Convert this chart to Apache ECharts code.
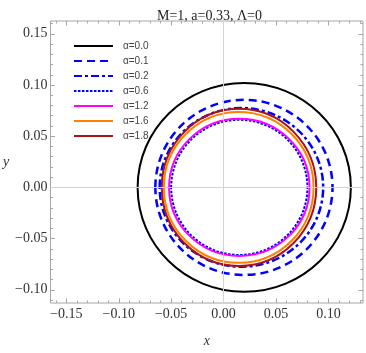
<!DOCTYPE html>
<html>
<head>
<meta charset="utf-8">
<script src="https://cdn.jsdelivr.net/npm/echarts@6/dist/echarts.min.js"></script>
<style>
html, body { margin: 0; padding: 0; background: #fff; }
#main { width: 366px; height: 353px; }
</style>
</head>
<body>
<div id="main"></div>
<script>
// curves
var names = ['α=0.0', 'α=0.1', 'α=0.2', 'α=0.6', 'α=1.2', 'α=1.6', 'α=1.8'];
var colors = ['#000000', '#0000ff', '#0000ff', '#0000ff', '#ff00ff', '#ff8000', '#aa1414'];
// shadow outlines: centre x, centre y, half width, half height
var centerX = [0.0197, 0.0194, 0.0170, 0.0150, 0.0150, 0.0144, 0.0147];
var centerY = [0, 0, 0, 0, 0, 0, 0];
var halfW = [0.1017, 0.0845, 0.0780, 0.0650, 0.0670, 0.0714, 0.0737];
var halfH = [0.1020, 0.0855, 0.0775, 0.0660, 0.0670, 0.0737, 0.0767];
var dashes = [null, [8, 5], [8, 3, 3, 3], [2.5, 1.5], null, null, null];
var widths = [2, 2.5, 2.5, 2, 2, 2, 2];

// ticks
var majorX = [-0.15, -0.10, -0.05, 0, 0.05, 0.10];
var majorY = [-0.10, -0.05, 0, 0.05, 0.10, 0.15];
var minorX = [-0.16, -0.15, -0.14, -0.13, -0.12, -0.11, -0.10, -0.09, -0.08, -0.07, -0.06, -0.05, -0.04, -0.03, -0.02, -0.01,
    0, 0.01, 0.02, 0.03, 0.04, 0.05, 0.06, 0.07, 0.08, 0.09, 0.10, 0.11, 0.12, 0.13];
var minorY = [-0.11, -0.10, -0.09, -0.08, -0.07, -0.06, -0.05, -0.04, -0.03, -0.02, -0.01,
    0, 0.01, 0.02, 0.03, 0.04, 0.05, 0.06, 0.07, 0.08, 0.09, 0.10, 0.11, 0.12, 0.13, 0.14, 0.15, 0.16];

var xMin = -0.1651, xMax = 0.1330;
var yMin = -0.1129, yMax = 0.1625;

var serif = 'Liberation Serif';
var frameColor = '#a6a6a6';

function fmt(v) {
    return v.toFixed(2).replace('-', '\u2212');
}

function makeAxis(pos, ticks, len, withLabel, isX) {
    var ax = {
        type: 'value',
        position: pos,
        min: isX ? xMin : yMin,
        max: isX ? xMax : yMax,
        axisLine: { show: false, onZero: false },
        splitLine: { show: false },
        axisTick: {
            show: true, inside: true, length: len, customValues: ticks,
            lineStyle: { color: frameColor, width: 1 }
        },
        axisLabel: { show: false }
    };
    if (withLabel) {
        ax.axisLabel = {
            show: true, customValues: ticks, formatter: fmt,
            fontFamily: serif, fontSize: 14, color: '#333', margin: isX ? 4 : 3
        };
    }
    return ax;
}

var xAxes = [
    makeAxis('bottom', majorX, 4.5, true, true),
    makeAxis('bottom', minorX, 2.5, false, true),
    makeAxis('top', majorX, 4.5, false, true),
    makeAxis('top', minorX, 2.5, false, true)
];
xAxes[0].name = 'x';
xAxes[0].nameLocation = 'middle';
xAxes[0].nameGap = 31;
xAxes[0].nameTextStyle = { fontFamily: serif, fontStyle: 'italic', fontSize: 14, color: '#333' };

var yAxes = [
    makeAxis('left', majorY, 4.5, true, false),
    makeAxis('left', minorY, 2.5, false, false),
    makeAxis('right', majorY, 4.5, false, false),
    makeAxis('right', minorY, 2.5, false, false)
];
yAxes[0].name = 'y';
yAxes[0].nameLocation = 'middle';
yAxes[0].nameRotate = 0;
yAxes[0].nameGap = 37;
yAxes[0].nameTextStyle = { fontFamily: serif, fontStyle: 'italic', fontSize: 14, color: '#333' };

var series = [];

// light grid lines through the origin
series.push({
    name: 'zero',
    type: 'line',
    data: [],
    z: 1,
    markLine: {
        silent: true,
        symbol: 'none',
        label: { show: false },
        lineStyle: { color: '#d4d4d4', width: 1, type: 'solid' },
        data: [{ xAxis: 0 }, { yAxis: 0 }]
    }
});

// legend entries (line samples)
names.forEach(function (n, i) {
    series.push({
        name: n,
        type: 'line',
        data: [],
        symbol: 'none',
        color: colors[i],
        lineStyle: { color: colors[i], width: widths[i], type: dashes[i] || 'solid' }
    });
});

// outlines
names.forEach(function (n, i) {
    series.push({
        name: n,
        type: 'custom',
        z: 3,
        color: colors[i],
        encode: { x: 0, y: 1 },
        data: [[centerX[i], centerY[i], halfW[i], halfH[i]]],
        renderItem: function (params, api) {
            var c = api.coord([api.value(0), api.value(1)]);
            var s = api.size([api.value(2), api.value(3)]);
            return {
                type: 'ellipse',
                shape: { cx: c[0], cy: c[1], rx: s[0], ry: s[1] },
                style: {
                    fill: 'none',
                    stroke: colors[i],
                    lineWidth: widths[i],
                    lineDash: dashes[i]
                }
            };
        }
    });
});

var myChart = echarts.init(document.getElementById('main'), null, { renderer: 'canvas' });

var option = {
    animation: false,
    backgroundColor: '#fff',
    title: {
        text: 'M=1, a=0.33, \u039B=0',
        left: 152,
        top: 4,
        textStyle: { fontFamily: serif, fontSize: 14, fontWeight: 'normal', color: '#222' }
    },
    grid: {
        left: 47, right: 3, top: 21, bottom: 40,
        show: true, borderColor: frameColor, borderWidth: 1
    },
    legend: {
        data: names,
        orient: 'vertical',
        left: 73,
        top: 41,
        padding: 0,
        itemWidth: 39,
        itemHeight: 10,
        itemGap: 5,
        itemStyle: { opacity: 0 },
        textStyle: { fontFamily: 'Liberation Sans', fontSize: 10, lineHeight: 10, color: '#444', padding: [0, 0, 0, 5] }
    },
    xAxis: xAxes,
    yAxis: yAxes,
    series: series
};

if (option && typeof option === 'object') {
    myChart.setOption(option);
}

window.addEventListener('resize', myChart.resize);
</script>
</body>
</html>
